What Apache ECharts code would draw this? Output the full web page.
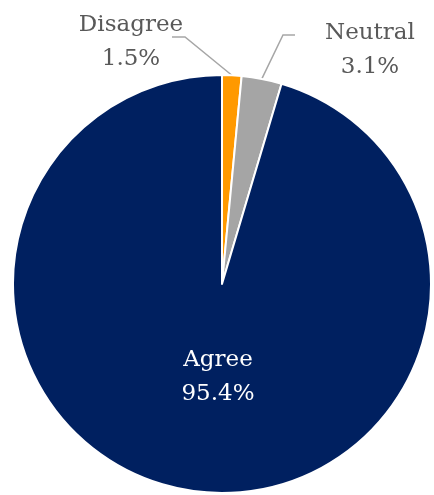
<!DOCTYPE html>
<html>
<head>
<meta charset="utf-8">
<script src="https://cdn.jsdelivr.net/npm/echarts@6/dist/echarts.min.js"></script>
<style>
  html, body { margin: 0; padding: 0; background: #fff; }
  #chart { width: 434px; height: 495px; }
</style>
</head>
<body>
<div id="chart"></div>
<script>
// 数据
var categories = ['Disagree', 'Neutral', 'Agree']
var values = [1.5, 3.1, 95.4]
var colors = ['#FF9900', '#A5A5A5', '#002060']

var chart = echarts.init(document.getElementById('chart'))

// 标签位置（按 dataIndex）
var labelPos = [
  { x: 131, y: 42, lineEnd: [185, 37], dx: -13 },
  { x: 370, y: 50, lineEnd: [283, 35], dx: 12 },
  { x: 218, y: 377 }
]

var option = {
  animation: false,
  series: [
    {
      type: 'pie',
      center: [222, 284],
      radius: 209,
      startAngle: 90,
      clockwise: true,
      itemStyle: {
        borderColor: '#fff',
        borderWidth: 2
      },
      label: {
        show: true,
        position: 'outside',
        overflow: 'none',
        formatter: function (p) {
          return p.name + '\n' + p.value.toFixed(1) + '%'
        },
        fontFamily: 'DejaVu Serif',
        fontSize: 23,
        lineHeight: 34,
        color: '#595959',
        align: 'center'
      },
      labelLine: {
        show: true,
        length: 10,
        length2: 10,
        lineStyle: { color: '#A6A6A6', width: 1.5 }
      },
      labelLayout: function (params) {
        var pos = labelPos[params.dataIndex]
        var pts = params.labelLinePoints
        if (pts && pos.lineEnd) {
          pts[1] = [pos.lineEnd[0], pos.lineEnd[1]]
          pts[2] = [pos.lineEnd[0] + pos.dx, pos.lineEnd[1]]
        }
        return {
          x: pos.x,
          y: pos.y,
          align: 'center',
          verticalAlign: 'middle',
          labelLinePoints: pts
        }
      },
      data: categories.map(function (name, i) {
        var d = { name: name, value: values[i], itemStyle: { color: colors[i] } }
        if (name === 'Agree') {
          d.label = { position: 'inside', color: '#fff' }
          d.labelLine = { show: false }
        }
        return d
      })
    }
  ]
}

chart.setOption(option)
window.onresize = chart.resize
</script>
</body>
</html>
